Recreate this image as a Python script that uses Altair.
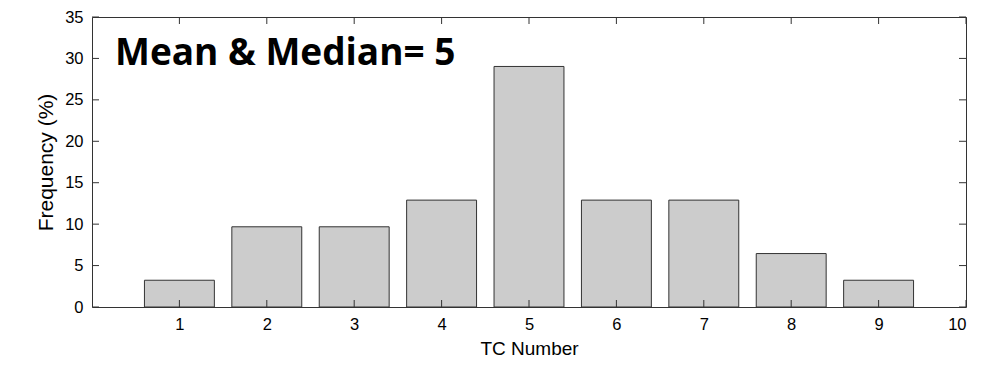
import altair as alt
import pandas as pd

tc_number = [1, 2, 3, 4, 5, 6, 7, 8, 9]
frequency = [3.23, 9.68, 9.68, 12.9, 29.03, 12.9, 12.9, 6.45, 3.23]
x_ticks = [1, 2, 3, 4, 5, 6, 7, 8, 9, 10]
y_ticks = [0, 5, 10, 15, 20, 25, 30, 35]
annotation = "Mean & Median= 5"

W, H = 874, 290
TL = 7

bars_df = pd.DataFrame({"tc": tc_number, "freq": frequency})
bars_df["lo"] = bars_df["tc"] - 0.4
bars_df["hi"] = bars_df["tc"] + 0.4
xt = pd.DataFrame({"v": x_ticks})
yt = pd.DataFrame({"v": y_ticks})

xs = alt.Scale(domain=[0, 10], nice=False, zero=False)
ys = alt.Scale(domain=[0, 35], nice=False)

font = "Liberation Sans"

bars = alt.Chart(bars_df).mark_rect(
    fill="#cccccc", stroke="#333333", strokeWidth=1
).encode(
    x=alt.X("lo:Q", scale=xs, axis=alt.Axis(
        values=x_ticks, format="d", title="TC Number", tickSize=0, domain=False, grid=False,
        labelFont=font, labelFontSize=16.5, labelColor="black", labelPadding=9,
        titleFont=font, titleFontSize=19, titleFontWeight="normal", titleColor="black",
        titlePadding=7)),
    x2="hi:Q",
    y=alt.Y("freq:Q", scale=ys, axis=alt.Axis(
        values=y_ticks, format="d", title="Frequency (%)", tickSize=0, domain=False, grid=False,
        labelFont=font, labelFontSize=16.5, labelColor="black", labelPadding=9,
        titleFont=font, titleFontSize=21, titleFontWeight="normal", titleColor="black",
        titlePadding=8)),
    y2=alt.datum(0),
)

tick_color = "#333333"
left_ticks = alt.Chart(yt).mark_rule(color=tick_color, strokeWidth=1).encode(
    y=alt.Y("v:Q", scale=ys), x=alt.value(0), x2=alt.value(TL))
right_ticks = alt.Chart(yt).mark_rule(color=tick_color, strokeWidth=1).encode(
    y=alt.Y("v:Q", scale=ys), x=alt.value(W - TL), x2=alt.value(W))
bottom_ticks = alt.Chart(xt).mark_rule(color=tick_color, strokeWidth=1).encode(
    x=alt.X("v:Q", scale=xs), y=alt.value(H), y2=alt.value(H - TL))
top_ticks = alt.Chart(xt).mark_rule(color=tick_color, strokeWidth=1).encode(
    x=alt.X("v:Q", scale=xs), y=alt.value(0), y2=alt.value(TL))

label = alt.Chart(pd.DataFrame({"t": [annotation]})).mark_text(
    font="Open Sans", fontWeight="bold", fontSize=37, color="black",
    align="left", baseline="alphabetic"
).encode(text="t:N", x=alt.value(23), y=alt.value(48))

chart = alt.layer(bars, left_ticks, right_ticks, bottom_ticks, top_ticks, label).properties(
    width=W, height=H,
    autosize=alt.AutoSizeParams(type="none"),
    padding={"left": 84, "top": 9, "right": 14, "bottom": 64},
    background="white",
).configure_view(stroke="#333333", strokeWidth=1)

chart.save("out.html", embed_options={"renderer": "svg", "actions": False})
